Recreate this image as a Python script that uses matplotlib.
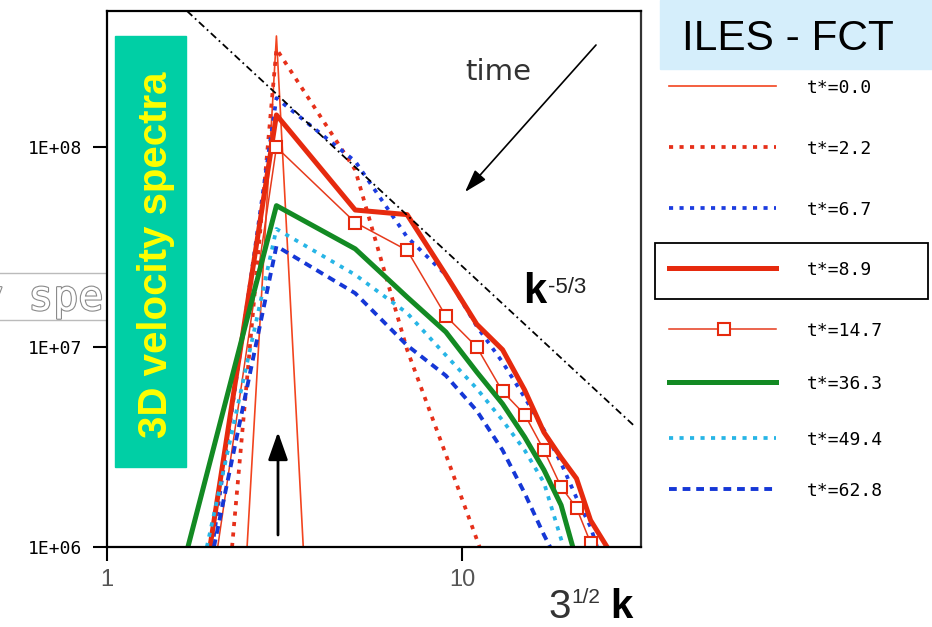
import numpy as np
import matplotlib.pyplot as plt
from matplotlib.patches import Rectangle
from matplotlib.ticker import NullLocator
from matplotlib import patheffects

W, H = 932, 627

# 3D velocity spectra, x axis is 3^(1/2) k
labels = ['t*=0.0', 't*=2.2', 't*=6.7', 't*=8.9', 't*=14.7', 't*=36.3', 't*=49.4', 't*=62.8']

k_00 = [2.48, 3, 3.57]
e_00 = [1.0e6, 3.6e8, 1.0e6]

k_22 = [2.25, 3, 5, 7, 9, 11.2]
e_22 = [1.0e6, 3.1e8, 7.7e7, 9.7e6, 2.9e6, 1.0e6]

k_67 = [1.98, 3, 5, 7, 9, 11, 13, 15, 17, 19, 21, 23, 24]
e_67 = [1.0e6, 1.76e8, 8.5e7, 3.55e7, 2.3e7, 1.27e7, 8.4e6, 5.6e6, 3.85e6, 2.63e6, 1.76e6, 1.26e6, 1.0e6]

k_89 = [1.95, 3, 5, 7, 9, 11, 13, 15, 17, 19, 21, 23, 25.6]
e_89 = [1.0e6, 1.45e8, 4.85e7, 4.6e7, 2.3e7, 1.3e7, 9.7e6, 6.1e6, 3.75e6, 2.8e6, 2.2e6, 1.36e6, 1.0e6]

k_147 = [2.05, 3, 5, 7, 9, 11, 13, 15, 17, 19, 21, 23]
e_147 = [1.0e6, 1.0e8, 4.2e7, 3.05e7, 1.43e7, 1.0e7, 6.0e6, 4.6e6, 3.05e6, 2.0e6, 1.57e6, 1.05e6]

k_363 = [1.69, 3, 5, 7, 9, 11, 13, 15, 17, 19, 20.5]
e_363 = [1.0e6, 5.1e7, 3.1e7, 1.78e7, 1.19e7, 7.5e6, 5.2e6, 3.55e6, 2.43e6, 1.62e6, 1.0e6]

k_494 = [1.91, 3, 5, 7, 9, 11, 13, 15, 17, 19.3]
e_494 = [1.0e6, 3.9e7, 2.3e7, 1.48e7, 9.1e6, 6.2e6, 4.3e6, 3.05e6, 2.1e6, 1.0e6]

k_628 = [2.0, 3, 5, 7, 9, 11, 13, 15, 17, 17.7]
e_628 = [1.0e6, 3.2e7, 1.86e7, 1.02e7, 7.2e6, 4.8e6, 3.05e6, 1.86e6, 1.15e6, 1.0e6]

# k^-5/3 reference line end points
ref_k = [1.68, 30.7]
ref_e = [4.8e8, 4.0e6]

xticks = [1, 10]
xticklabels = ['1', '10']
yticks = [1e6, 1e7, 1e8]
yticklabels = ['1E+06', '1E+07', '1E+08']

series = [(k_00, e_00), (k_22, e_22), (k_67, e_67), (k_89, e_89),
          (k_147, e_147), (k_363, e_363), (k_494, e_494), (k_628, e_628)]

red = '#e62a0e'
dots = (0, (1.1, 1.7))
styles = [
    dict(color='#f2441f', lw=1.2),
    dict(color='#e6301a', lw=2.7, ls=dots),
    dict(color='#1c3ce0', lw=2.7, ls=dots),
    dict(color=red, lw=3.6),
    dict(color='#e63a1c', lw=1.1, marker='s', ms=8, mfc='white', mec=red, mew=1.5),
    dict(color='#138a23', lw=3.6),
    dict(color='#27b5e6', lw=2.7, ls=dots),
    dict(color='#1537d6', lw=2.8, ls=(0, (2, 1.5))),
]

fig = plt.figure(figsize=(W / 100, H / 100), dpi=100)

# ghost of an older label behind the plot, left edge
under = fig.add_axes([0, 0, 1, 1], zorder=-1)
under.set_xlim(0, W)
under.set_ylim(H, 0)
under.axis('off')
under.add_patch(Rectangle((-2, 273), 109, 47, fill=False, ec='#bbbbbb', lw=1))
under.text(-22, 310, 'y spec', family='DejaVu Sans Mono', fontsize=30, color='white',
           path_effects=[patheffects.withStroke(linewidth=1.6, foreground='#8a8a8a')])

ax = fig.add_axes([107 / W, 1 - 547 / H, (641 - 107) / W, (547 - 11) / H])
ax.set_xscale('log')
ax.set_yscale('log')

for (k, e), st in zip(series, styles):
    if st.get('marker'):
        ax.plot(k, e, markevery=list(range(1, len(k))), **st)
    else:
        ax.plot(k, e, **st)

ax.plot(ref_k, ref_e, color='k', lw=1.3, ls=(0, (4, 2, 1, 2)))

ax.set_xlim(1, 31.9)
ax.set_ylim(1e6, 4.8e8)
ax.set_xticks(xticks)
ax.set_xticklabels(xticklabels, family='Liberation Sans', fontsize=17, color='#555555')
ax.set_yticks(yticks)
ax.set_yticklabels(yticklabels, family='DejaVu Sans Mono', fontsize=13)
ax.xaxis.set_minor_locator(NullLocator())
ax.yaxis.set_minor_locator(NullLocator())
ax.tick_params(direction='out', length=10, width=1.5)
ax.tick_params(axis='y', pad=8)
ax.tick_params(axis='x', pad=6)
for s in ax.spines.values():
    s.set_linewidth(1.6)
ax.spines['right'].set_color('#333333')

# overlay in pixel coordinates for the slide decorations
over = fig.add_axes([0, 0, 1, 1], zorder=5)
over.set_xlim(0, W)
over.set_ylim(H, 0)
over.axis('off')

over.add_patch(Rectangle((115, 36), 71, 431, color='#00cfa5'))
over.text(167, 255, '3D velocity spectra', rotation=90, rotation_mode='anchor',
          ha='center', va='baseline', color='#ffff00', fontweight='bold',
          fontsize=29, family='Liberation Sans')

over.add_patch(Rectangle((660, 0), 272, 69, color='#d5eefb'))
over.text(682, 50, 'ILES - FCT', fontsize=30.5, family='Liberation Sans', va='baseline')

over.text(465, 80, 'time', fontsize=21, family='DejaVu Sans', color='#333333', va='baseline')
over.annotate('', xy=(465, 192), xytext=(596, 45),
              arrowprops=dict(arrowstyle='-|>,head_length=0.7,head_width=0.22', color='k',
                              lw=1.2, mutation_scale=20, shrinkA=0, shrinkB=0))
over.annotate('', xy=(278, 432), xytext=(278, 535),
              arrowprops=dict(arrowstyle='-|>,head_length=0.85,head_width=0.3', color='k',
                              lw=2, mutation_scale=20, shrinkA=0, shrinkB=0))

over.text(523, 303, 'k', fontsize=30, fontweight='bold', family='Liberation Sans', va='baseline')
over.text(548, 293, '-5/3', fontsize=16, family='Liberation Sans', color='#222222', va='baseline')

over.text(548, 618, '3', fontsize=29, family='Liberation Sans', color='#333333', va='baseline')
over.text(571, 603, '1/2', fontsize=15, family='Liberation Sans', color='#333333', va='baseline')
over.text(610, 618, 'k', fontsize=29, fontweight='bold', family='Liberation Sans', va='baseline')

# legend drawn by hand, one row per series
rows = [86, 147, 208, 268, 329, 382, 438, 489]
for lab, st, y in zip(labels, styles, rows):
    st2 = {key: v for key, v in st.items() if key not in ('marker', 'ms', 'mfc', 'mec', 'mew')}
    over.plot([669, 776], [y, y], **st2)
    if st.get('marker'):
        over.plot([724], [y], marker='s', ms=8, mfc='white', mec=red, mew=1.5, ls='none')
    over.text(807, y + 7, lab, family='DejaVu Sans Mono', fontsize=13, va='baseline')
over.add_patch(Rectangle((655, 243), 273, 56, fill=False, ec='k', lw=1.3))

fig.savefig('out.png', dpi=100)
